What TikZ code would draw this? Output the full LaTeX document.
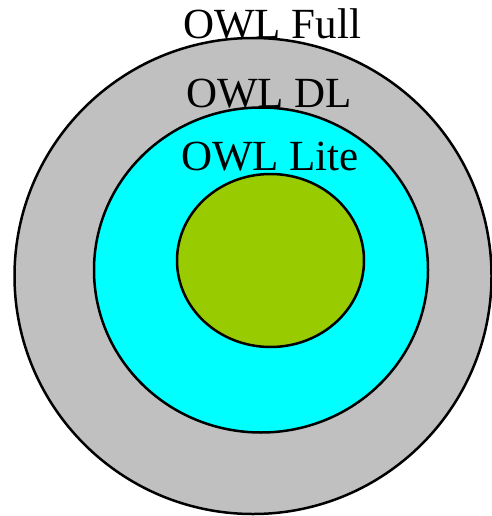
\documentclass[tikz,border=0pt]{standalone}
\usepackage{fontspec}
\setmainfont{Liberation Serif}
\usetikzlibrary{shapes.geometric, positioning}
\definecolor{fullgray}{HTML}{C0C0C0}
\definecolor{dlcyan}{HTML}{00FFFF}
\definecolor{litegreen}{HTML}{99CC00}
\tikzset{
  ring/.style={ellipse, draw, line width=2.5pt, inner sep=0pt},
  owllabel/.style={font=\fontsize{43}{50}\selectfont, anchor=base, inner sep=0pt},
}
\begin{document}
\begin{tikzpicture}[x=1pt, y=-1pt]
  \useasboundingbox (0,0) rectangle (491,516);
  % Nested language levels
  \node[ring, fill=fullgray, minimum width=477pt, minimum height=476pt] (full) at (253,276) {};
  \node[ring, fill=dlcyan, minimum width=334pt, minimum height=325pt] (dl) at (261,270) {};
  \node[ring, fill=litegreen, minimum width=187pt, minimum height=173pt] (lite) at (270.5,260.5) {};

  % Labels
  \node[owllabel] (fulltxt) at (272,39) {OWL Full};
  \node[owllabel] (dltxt) at (269,108) {OWL DL};
  \node[owllabel] (litetxt) at (270,170) {OWL Lite};
\end{tikzpicture}
\end{document}
